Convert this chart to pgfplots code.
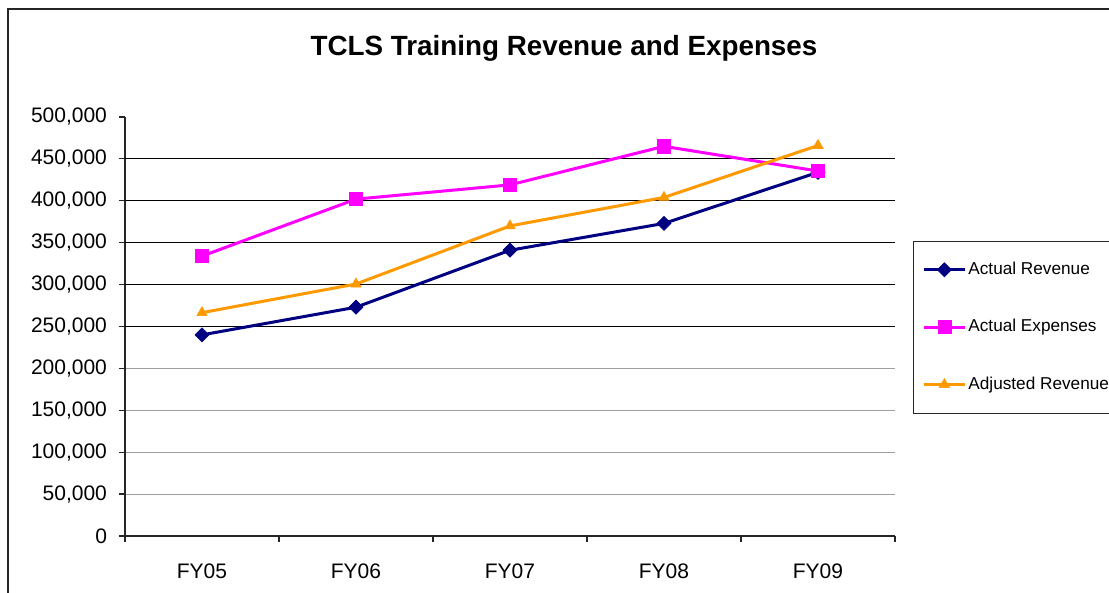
\documentclass[border=0pt]{standalone}
\usepackage{pgfplots}
\pgfplotsset{compat=1.18}
\usepackage{fontspec}
\setmainfont{Liberation Sans}
\definecolor{revc}{HTML}{000080}
\definecolor{expc}{HTML}{FF00FF}
\definecolor{adjc}{HTML}{FF9900}
\begin{document}
\begin{tikzpicture}[x=0.5pt,y=0.5pt]
\useasboundingbox (0,0) rectangle (1109,593);
\clip (0,0) rectangle (1109,593);
\draw[line width=0.8pt,black!85] (8,-20) -- (8,584) -- (1200,584);
\node[anchor=base,font=\bfseries\fontsize{13.9}{16}\selectfont] at (564,537) {TCLS Training Revenue and Expenses};
\begin{axis}[
  at={(62.5pt,28.5pt)}, anchor=south west,
  scale only axis, width=385pt, height=209.5pt,
  xmin=-0.5, xmax=4.5, ymin=0, ymax=500000,
  axis lines*=left,
  tick align=outside,
  axis line style={black!85, line width=0.6pt},
  tick style={black!85, line width=0.6pt},
  major tick length=3pt,
  xtick={-0.5,0.5,1.5,2.5,3.5,4.5},
  xticklabels={,,,,,},
  extra x ticks={0,1,2,3,4},
  extra x tick labels={FY05,FY06,FY07,FY08,FY09},
  extra x tick style={major tick length=0pt},
  x tick label style={yshift=-10.5pt},
  ytick={0,50000,...,500000},
  extra y ticks={250000,300000,350000,400000,450000},
  extra y tick labels={,,,,},
  extra y tick style={grid=major},
  major grid style={black, line width=0.5pt},
  minor ytick={50000,100000,150000,200000},
  yminorgrids=true,
  minor grid style={gray!75, line width=0.5pt},
  minor tick length=0pt,
  scaled y ticks=false,
  /pgf/number format/assume math mode=true,
  y tick label style={xshift=-2.5pt, /pgf/number format/fixed, /pgf/number format/1000 sep={,}},
  tick label style={font=\fontsize{10.5}{12}\selectfont},
  legend cell align=left,
  legend image code/.code={\draw[mark repeat=2,mark phase=2,#1] plot coordinates {(0pt,0pt) (10.25pt,0pt) (20.5pt,0pt)};},
  legend style={at={(1.0234,0.7048)}, anchor=north west, draw=black!85,
    inner xsep=4.5pt, inner ysep=0pt, row sep=0pt,
    font=\fontsize{8.6}{10}\selectfont,
    nodes={minimum height=28.7pt, inner xsep=1pt, inner ysep=0pt}},
  clip=false,
]
\addplot[revc, line width=1.5pt, mark=square*, mark size=2.5pt, mark options={rotate=45, line width=0.3pt}]
  coordinates {(0,240000)(1,273000)(2,341000)(3,373000)(4,434000)};
\addlegendentry{Actual Revenue}
\addplot[expc, line width=1.5pt, mark=square*, mark size=3.3pt, mark options={line width=0.3pt}]
  coordinates {(0,334000)(1,402000)(2,419000)(3,465000)(4,435500)};
\addlegendentry{Actual Expenses}
\addplot[adjc, line width=1.5pt, mark=triangle*, mark size=3pt, mark options={line width=0.3pt}]
  coordinates {(0,266500)(1,300700)(2,370000)(3,404000)(4,466000)};
\addlegendentry{Adjusted Revenue\hspace{12pt}}
\end{axis}
\end{tikzpicture}
\end{document}
